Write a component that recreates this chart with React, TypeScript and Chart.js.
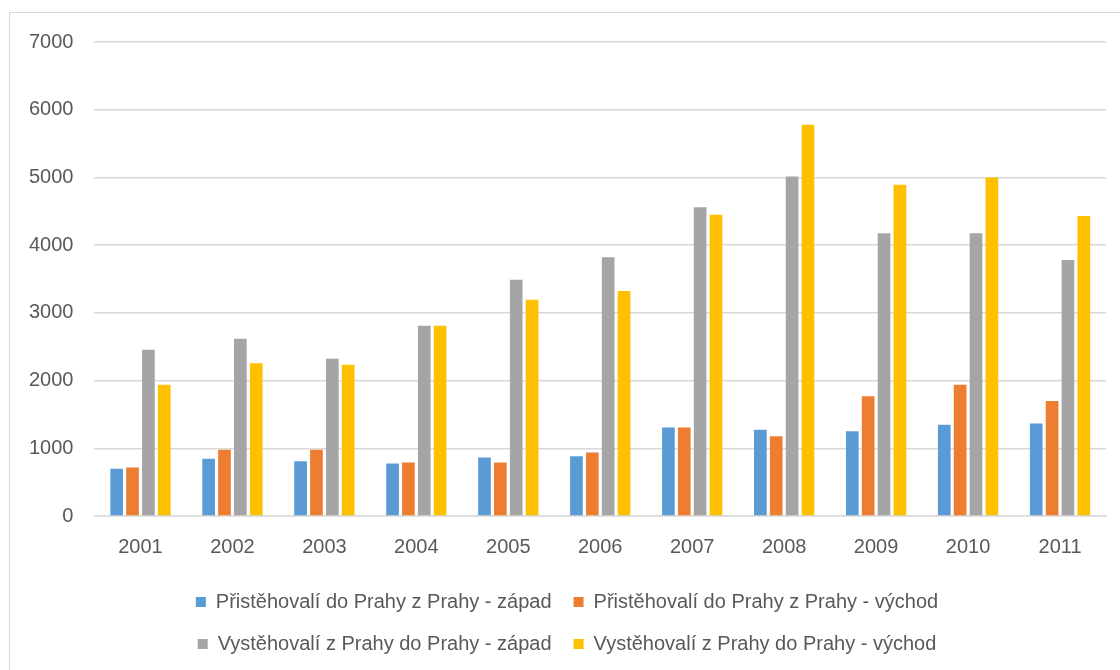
import React, { useEffect, useRef } from "react";
import { Chart, registerables } from "chart.js";

Chart.register(...registerables);

const years = ["2001", "2002", "2003", "2004", "2005", "2006", "2007", "2008", "2009", "2010", "2011"];
const inWest = [698, 845, 810, 776, 865, 884, 1307, 1272, 1253, 1346, 1366];
const inEast = [717, 977, 977, 791, 791, 938, 1307, 1179, 1768, 1940, 1700];
const outWest = [2456, 2618, 2323, 2810, 3488, 3822, 4558, 5015, 4175, 4175, 3782];
const outEast = [1940, 2255, 2235, 2810, 3193, 3321, 4450, 5777, 4892, 5000, 4431];
const seriesLabels = [
  "Přistěhovalí do Prahy z Prahy - západ",
  "Přistěhovalí do Prahy z Prahy - východ",
  "Vystěhovalí z Prahy do Prahy - západ",
  "Vystěhovalí z Prahy do Prahy - východ",
];
const colors = ["#5B9BD5", "#ED7D31", "#A5A5A5", "#FFC000"];

export default function App() {
  const ref = useRef<HTMLCanvasElement | null>(null);
  useEffect(() => {
    if (!ref.current) return;
    const font = { family: "'Liberation Sans', Arial, sans-serif", size: 20 };
    const values = [inWest, inEast, outWest, outEast];
    const chart = new Chart(ref.current, {
      type: "bar",
      data: {
        labels: years,
        datasets: values.map((v, i) => ({
          label: seriesLabels[i],
          data: v,
          backgroundColor: colors[i],
          borderWidth: 0,
          categoryPercentage: 0.69,
          barPercentage: 0.8,
        })),
      },
      options: {
        animation: false,
        responsive: true,
        maintainAspectRatio: false,
        layout: { padding: { left: 28, right: 14, top: 42, bottom: 6 } },
        scales: {
          x: {
            grid: { display: false, drawTicks: false },
            border: { display: true, color: "#d9d9d9", width: 1.5 },
            ticks: { color: "#595959", font, padding: 19 },
            afterFit: (scale: any) => {
              scale.height -= 8;
            },
          },
          y: {
            min: 0,
            max: 7000,
            ticks: {
              stepSize: 1000,
              color: "#595959",
              font,
              padding: 21,
              callback: (v: any) => String(v),
            },
            grid: { color: "#d9d9d9", lineWidth: 1.5, drawTicks: false },
            border: { display: false },
            afterFit: (scale: any) => {
              scale.width -= 20;
            },
          },
        },
        plugins: {
          legend: {
            position: "bottom",
            labels: {
              color: "#595959",
              font,
              boxWidth: 10,
              boxHeight: 10,
              padding: 22,
            },
          },
          tooltip: { enabled: false },
        },
      },
    });
    return () => chart.destroy();
  }, []);
  return (
    <div style={{ position: "fixed", left: 0, top: 0, width: 1120, height: 670, background: "#fff" }}>
      <div
        style={{
          position: "absolute",
          left: 9,
          top: 12,
          width: 1120,
          height: 700,
          borderLeft: "1.5px solid #d9d9d9",
          borderTop: "1.5px solid #d9d9d9",
        }}
      />
      <div style={{ position: "absolute", left: 0, top: 0, width: 1120, height: 670 }}>
        <canvas ref={ref} />
      </div>
    </div>
  );
}
